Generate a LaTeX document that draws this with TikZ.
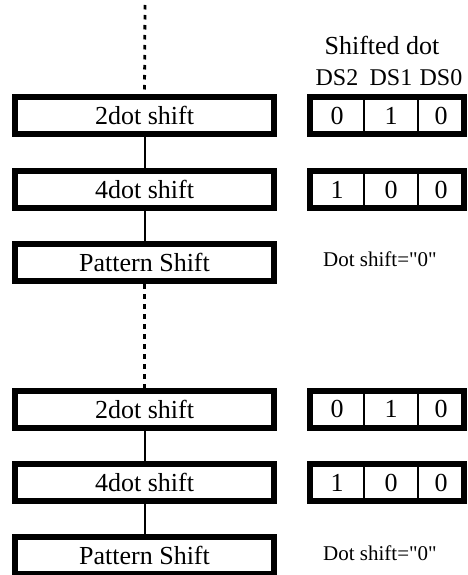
\documentclass[tikz,border=0pt]{standalone}
\usepackage{fontspec}
\setmainfont{Liberation Serif}[Ligatures=TeXOff]
\usetikzlibrary{positioning}

\begin{document}
\begin{tikzpicture}[
        x=1pt, y=-1pt,
        node distance=73pt,
        shiftbox/.style={rectangle, draw=black, line width=6pt, minimum width=259pt,
                        minimum height=37pt, inner sep=0pt, font=\fontsize{26}{28}\selectfont},
        bitcell/.style={rectangle, draw=black, line width=1.5pt, minimum height=37pt,
                        inner sep=0pt, outer sep=0pt, font=\fontsize{26}{28}\selectfont},
        frame/.style={draw=black, line width=6pt},
        link/.style={line width=2pt},
        skip/.style={line width=2.8pt, dash pattern=on 4.5pt off 5.5pt},
        bitlabel/.style={anchor=base, font=\fontsize{24}{26}\selectfont},
        note/.style={anchor=base, font=\fontsize{21}{23}\selectfont}
    ]
        \useasboundingbox (0,0) rectangle (467,575);

        % first pass
        \node[shiftbox] (twoa) at (144.5,115.5) {2dot shift};
        \node[shiftbox, below of=twoa, yshift=-1pt] (foura) {4dot shift};
        \node[shiftbox, below of=foura] (pata) {Pattern Shift};

        % second pass
        \node[shiftbox, below of=pata, yshift=-73.5pt] (twob) {2dot shift};
        \node[shiftbox, below of=twob, yshift=-0.5pt] (fourb) {4dot shift};
        \node[shiftbox, below of=fourb] (patb) {Pattern Shift};

        \coordinate (topin) at (145,5);
        \draw[skip] (topin) -- (twoa.north);
        \draw[link] (twoa) -- (foura);
        \draw[link] (foura) -- (pata);
        \draw[skip] (pata.south) -- (twob.north);
        \draw[link] (twob) -- (fourb);
        \draw[link] (fourb) -- (patb);

        % shifted dot bits
        \node[anchor=base, font=\fontsize{26}{28}\selectfont] (shifted) at (382,55) {Shifted dot};
        \node[bitlabel] (dstwo) at (337,86) {DS2};
        \node[bitlabel] (dsone) at (391,86) {DS1};
        \node[bitlabel] (dszero) at (441,86) {DS0};

        \foreach \row/\ya/\bits in {a/115.5/{0,1,0}, b/189.5/{1,0,0}, c/409/{0,1,0}, d/482.5/{1,0,0}} {
            \foreach \b [count=\i] in \bits {
                \ifnum\i=3
                    \node[bitcell, minimum width=46pt] (cell\row\i) at (441,\ya) {\b};
                \else
                    \node[bitcell, minimum width=54pt] (cell\row\i) at (283+54*\i,\ya) {\b};
                \fi
            }
            \draw[frame] (cell\row1.north west) rectangle (cell\row3.south east);
        }

        \node[note] (dotnotea) at (380,266) {Dot shift="0"};
        \node[note] (dotnoteb) at (380,560) {Dot shift="0"};
    \end{tikzpicture}
\end{document}
